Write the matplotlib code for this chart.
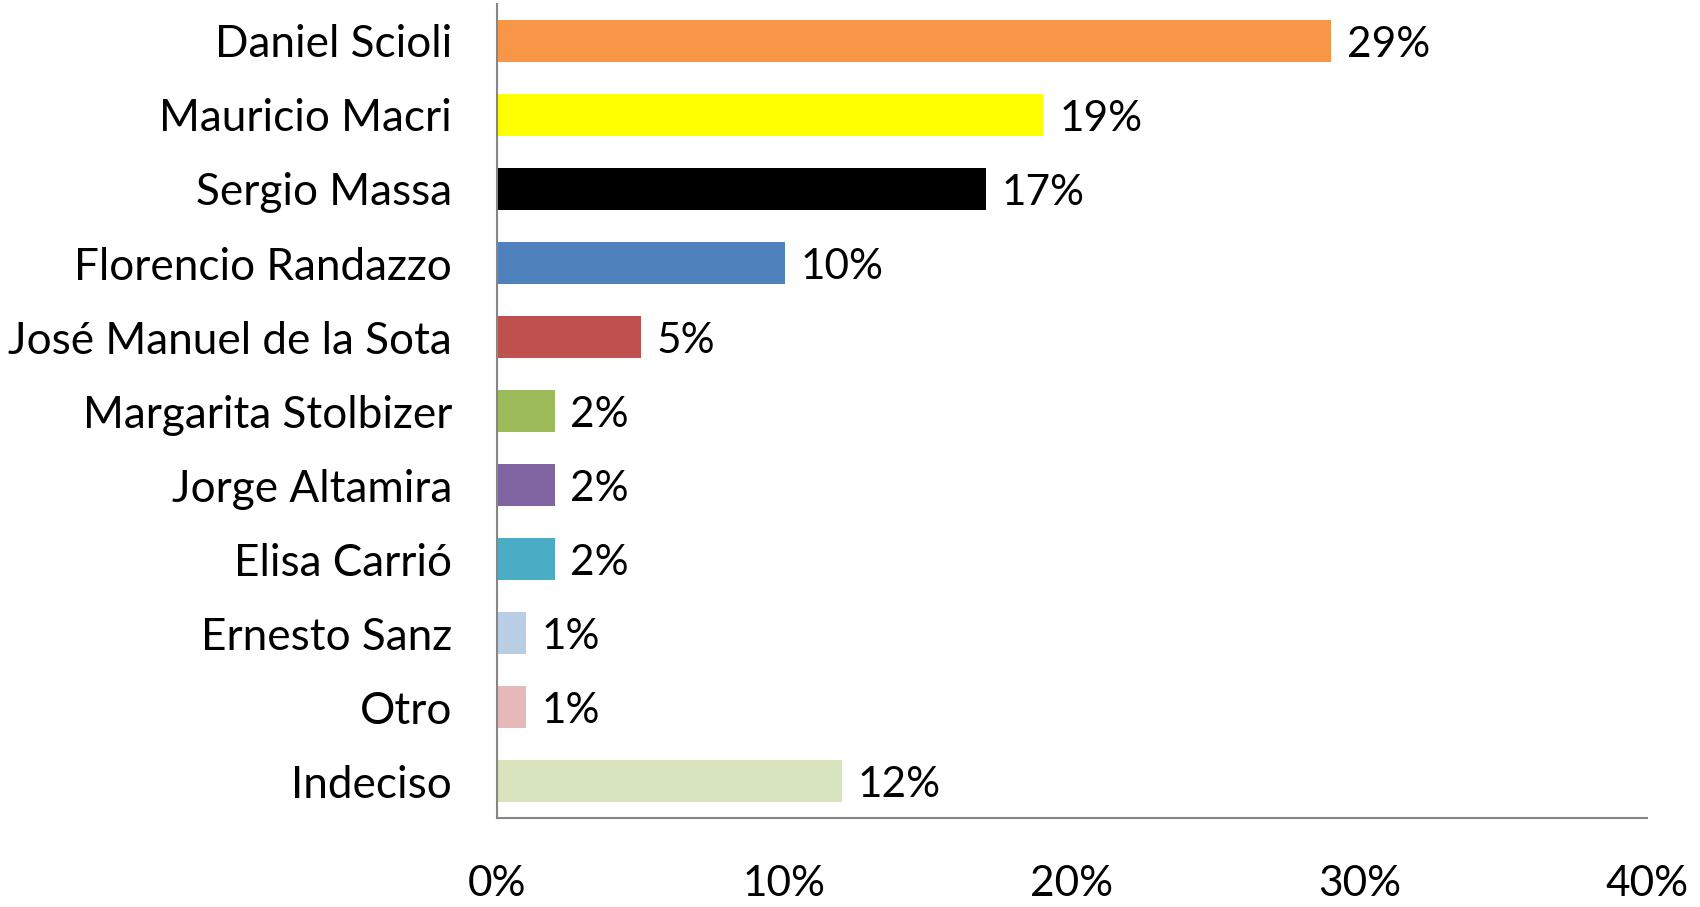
import matplotlib
matplotlib.use("Agg")
import matplotlib.pyplot as plt
from matplotlib.ticker import FuncFormatter

# datos de la encuesta
candidatos = ["Daniel Scioli", "Mauricio Macri", "Sergio Massa", "Florencio Randazzo",
              "José Manuel de la Sota", "Margarita Stolbizer", "Jorge Altamira",
              "Elisa Carrió", "Ernesto Sanz", "Otro", "Indeciso"]
valores = [29, 19, 17, 10, 5, 2, 2, 2, 1, 1, 12]
colores = ["#F79646", "#FFFF00", "#000000", "#4F81BD", "#C0504D", "#9BBB59",
           "#8064A2", "#4BACC6", "#B9CDE5", "#E6B9B8", "#D7E4BD"]
ticks_x = [0, 10, 20, 30, 40]

plt.rcParams['font.family'] = ['Lato', 'DejaVu Sans']

fig = plt.figure(figsize=(17, 9.07), dpi=100)
ax = fig.add_axes([0.2924, 0.0981, 0.6764, 0.8975])

pos = list(range(len(candidatos)))
ax.barh(pos, valores, height=0.58, color=colores)
for y, v in zip(pos, valores):
    ax.text(v + 0.55, y + 0.05, f"{v}%", va="center", ha="left", fontsize=30.5)

ax.set_ylim(len(candidatos) - 0.5, -0.5)
ax.set_xlim(0, 40)
ax.set_yticks(pos)
ax.set_yticklabels(candidatos, fontsize=31.8)
ax.set_xticks(ticks_x)
ax.xaxis.set_major_formatter(FuncFormatter(lambda x, _: f"{x:.0f}%"))
ax.tick_params(axis="x", length=0, pad=34, labelsize=30.5)
ax.tick_params(axis="y", length=0, pad=32.5)

for s in ["top", "right"]:
    ax.spines[s].set_visible(False)
for s in ["left", "bottom"]:
    ax.spines[s].set_color("#868686")
    ax.spines[s].set_linewidth(1.5)

fig.savefig("out.png", dpi=100)
